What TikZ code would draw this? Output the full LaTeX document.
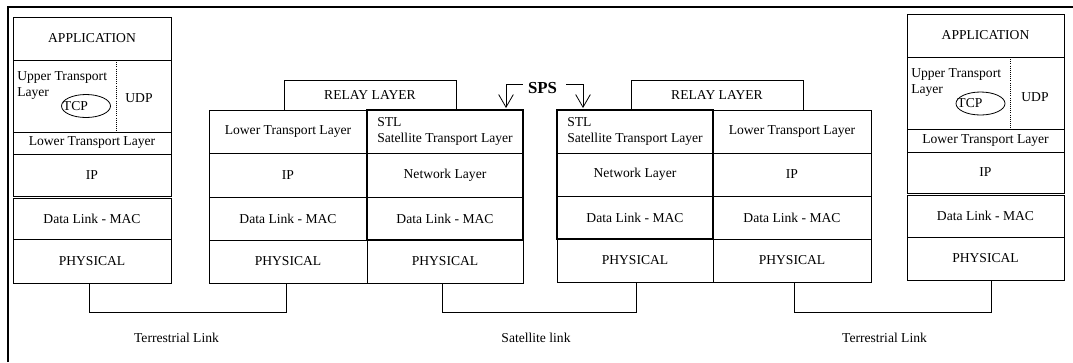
\documentclass[tikz,border=0pt]{standalone}
\usepackage{fontspec}
\setmainfont{Liberation Serif}
\usetikzlibrary{arrows.meta,shapes.geometric}

% one protocol-layer cell given by its corner coordinates
\newcommand\layerbox[7][]{%
  \node[cell,#1,minimum width={0.75pt*(#5-#3)},minimum height={0.75pt*(#6-#4)}]
    (#2) at ({(#3+#5)/2},{(#4+#6)/2}) {#7};}

\tikzset{
  txt/.style={font=\fontsize{10.2}{11.5}\selectfont},
  cell/.style={draw,line width=0.6pt,rectangle,inner sep=0pt,outer sep=0pt,align=center,txt},
  plain/.style={inner sep=0pt,txt},
  spsframe/.style={draw,line width=2.2pt,line join=miter},
  divider/.style={densely dotted,line width=0.6pt},
  tcpring/.style={draw,ellipse,line width=0.6pt,inner sep=0pt,minimum width=36.75pt,minimum height=17.25pt},
  link/.style={draw,line width=0.6pt},
  spsarrow/.style={draw,line width=0.6pt,-{Straight Barb[length=9.5pt,width=11pt]}},
}

\begin{document}
\begin{tikzpicture}[x=0.75pt,y=-0.75pt]
\useasboundingbox (0,0) rectangle (1073,362);

% frame on the left and top
\draw[line width=2.2pt,line join=miter] (8,362) -- (8,7) -- (1073,7);

% ---- left end system ----
\layerbox{lapp}{13}{17}{171}{60}{APPLICATION}
\layerbox{lut}{13}{60}{171}{132}{}
\layerbox{llt}{13}{132}{171}{154}{Lower Transport Layer}
\layerbox{lip}{13}{154}{171}{196}{IP}
\layerbox{ldl}{13}{198}{171}{239}{Data Link - MAC}
\layerbox{lphy}{13}{239}{171}{283}{PHYSICAL}
\draw[divider] (116,60) -- (116,132);
\node[plain,anchor=west,align=left,font=\fontsize{10.2}{12}\selectfont] (lutx) at (17,86) {Upper Transport\\Layer};
\node[tcpring] (ltcp) at (86,106) {};
\node[plain,anchor=west] (ltcpx) at ([xshift=1.2pt]ltcp.west) {TCP};
\node[plain] (ludp) at (139,98) {UDP};

% ---- left relay (SPS) ----
\layerbox{rlay1}{284}{80}{456}{110}{RELAY LAYER}
\layerbox{alt}{209}{110}{367}{153}{Lower Transport Layer}
\layerbox{aip}{209}{153}{367}{197}{IP}
\layerbox{adl}{209}{197}{367}{240}{Data Link - MAC}
\layerbox{aphy}{209}{240}{367}{283}{PHYSICAL}
\layerbox[align=left]{astl}{367}{110}{523}{153}{STL\\Satellite Transport Layer}
\layerbox{anet}{367}{153}{523}{197}{Network Layer}
\layerbox{asdl}{367}{197}{523}{240}{Data Link - MAC}
\layerbox{asphy}{367}{240}{523}{283}{PHYSICAL}
\draw[spsframe] (astl.north west) rectangle (asdl.south east);

% ---- right relay (SPS) ----
\layerbox{rlay2}{631}{80}{803}{110}{RELAY LAYER}
\layerbox[align=left]{bstl}{557}{110}{713}{153}{STL\\Satellite Transport Layer}
\layerbox{bnet}{557}{153}{713}{196}{Network Layer}
\layerbox{bsdl}{557}{196}{713}{239}{Data Link - MAC}
\layerbox{bsphy}{557}{239}{713}{282}{PHYSICAL}
\layerbox{blt}{713}{110}{871}{153}{Lower Transport Layer}
\layerbox{bip}{713}{153}{871}{196}{IP}
\layerbox{bdl}{713}{196}{871}{239}{Data Link - MAC}
\layerbox{bphy}{713}{239}{871}{282}{PHYSICAL}
\draw[spsframe] (bstl.north west) rectangle (bsdl.south east);

% ---- right end system ----
\layerbox{rapp}{907}{14}{1064}{57}{APPLICATION}
\layerbox{rut}{907}{57}{1064}{129}{}
\layerbox{rlt}{907}{129}{1064}{152}{Lower Transport Layer}
\layerbox{rip}{907}{152}{1064}{193}{IP}
\layerbox{rdl}{907}{195}{1064}{237}{Data Link - MAC}
\layerbox{rphy}{907}{237}{1064}{280}{PHYSICAL}
\draw[divider] (1010,57) -- (1010,129);
\node[plain,anchor=west,align=left,font=\fontsize{10.2}{12}\selectfont] (rutx) at (911,83) {Upper Transport\\Layer};
\node[tcpring] (rtcp) at (980.5,103.5) {};
\node[plain,anchor=west] (rtcpx) at ([xshift=1.2pt]rtcp.west) {TCP};
\node[plain] (rudp) at (1035,97) {UDP};

% ---- SPS marker ----
\node[inner sep=0pt,font=\bfseries\fontsize{12.6}{14}\selectfont] (sps) at (542.5,88) {SPS};
\draw[spsarrow] ([xshift=-3.75pt,yshift=3pt]sps.west) -| ([xshift=-12.75pt,yshift=1.5pt]astl.north east);
\draw[spsarrow] ([xshift=6.75pt,yshift=3pt]sps.east) -| ([xshift=19.5pt,yshift=1.5pt]bstl.north west);

% ---- physical links ----
\draw[link] ([xshift=-2pt]lphy.south) -- ([xshift=-2pt]lphy.south |- 0,312) -| ([xshift=-1.5pt]aphy.south);
\draw[link] ([xshift=-2pt]asphy.south) -- ([xshift=-2pt]asphy.south |- 0,312) -| ([xshift=0.75pt]bsphy.south);
\draw[link] ([xshift=1.5pt]bphy.south) -- ([xshift=1.5pt]bphy.south |- 0,312) -| ([xshift=4.5pt]rphy.south);

\node[plain] (tl1) at (176.5,338) {Terrestrial Link};
\node[plain] (sl) at (536,338) {Satellite link};
\node[plain] (tl2) at (884.5,338) {Terrestrial Link};
\end{tikzpicture}
\end{document}
